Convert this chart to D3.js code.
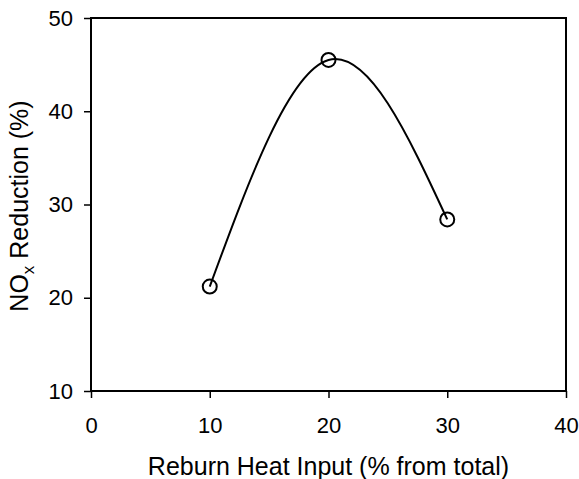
<!DOCTYPE html>
<html>
<head>
<meta charset="utf-8">
<script src="https://cdn.jsdelivr.net/npm/d3@7"></script>
<style>
  body { margin: 0; background: #fff; }
  text { font-family: "Liberation Sans", Arial, sans-serif; fill: #000; }
  .axis path, .axis line { stroke: #000; stroke-width: 1.5; }
  .axis text { font-size: 22px; font-family: "Liberation Sans", Arial, sans-serif; }
</style>
</head>
<body>
<svg width="579" height="479"></svg>
<script>
// data
const heatInput = [10, 20, 30]
const noxReduction = [21.2, 45.5, 28.4]
const xTicks = [0, 10, 20, 30, 40]
const yTicks = [10, 20, 30, 40, 50]

const svg = d3.select("svg")
const plotLeft = 91, plotRight = 566, plotTop = 18, plotBottom = 391

const x = d3.scaleLinear().domain([0, 40]).range([plotLeft, plotRight])
const y = d3.scaleLinear().domain([10, 50]).range([plotBottom, plotTop])

// plot frame
svg.append("rect")
	.attr("x", plotLeft)
	.attr("y", plotTop)
	.attr("width", plotRight - plotLeft)
	.attr("height", plotBottom - plotTop)
	.attr("fill", "none")
	.attr("stroke", "#000")
	.attr("stroke-width", 2)

svg.append("g")
	.attr("class", "axis")
	.attr("transform", "translate(0," + plotBottom + ")")
	.call(d3.axisBottom(x).tickValues(xTicks).tickSize(7).tickPadding(19))
	.call(g => g.select(".domain").remove())

svg.append("g")
	.attr("class", "axis")
	.attr("transform", "translate(" + plotLeft + ",0)")
	.call(d3.axisLeft(y).tickValues(yTicks).tickSize(7).tickPadding(11))
	.call(g => g.select(".domain").remove())

const points = heatInput.map((d, i) => [d, noxReduction[i]])

// smoothed line through the three points
const line = d3.line()
	.x(d => x(d[0]))
	.y(d => y(d[1]))
	.curve(d3.curveNatural)

svg.append("path")
	.datum(points)
	.attr("d", line)
	.attr("fill", "none")
	.attr("stroke", "#000")
	.attr("stroke-width", 2)

svg.selectAll("circle.pt")
	.data(points)
	.enter()
	.append("circle")
	.attr("class", "pt")
	.attr("cx", d => x(d[0]))
	.attr("cy", d => y(d[1]))
	.attr("r", 7)
	.attr("fill", "none")
	.attr("stroke", "#000")
	.attr("stroke-width", 2)

// axis titles
svg.append("text")
	.attr("x", (plotLeft + plotRight) / 2)
	.attr("y", 475)
	.attr("text-anchor", "middle")
	.style("font-size", "25px")
	.text("Reburn Heat Input (% from total)")

const yTitle = svg.append("text")
	.attr("transform", "translate(28,206) rotate(-90)")
	.attr("text-anchor", "middle")
	.style("font-size", "25px")
yTitle.append("tspan").text("NO")
yTitle.append("tspan").attr("dy", 6).style("font-size", "17px").text("x")
yTitle.append("tspan").attr("dy", -6).text(" Reduction (%)")
</script>
</body>
</html>
